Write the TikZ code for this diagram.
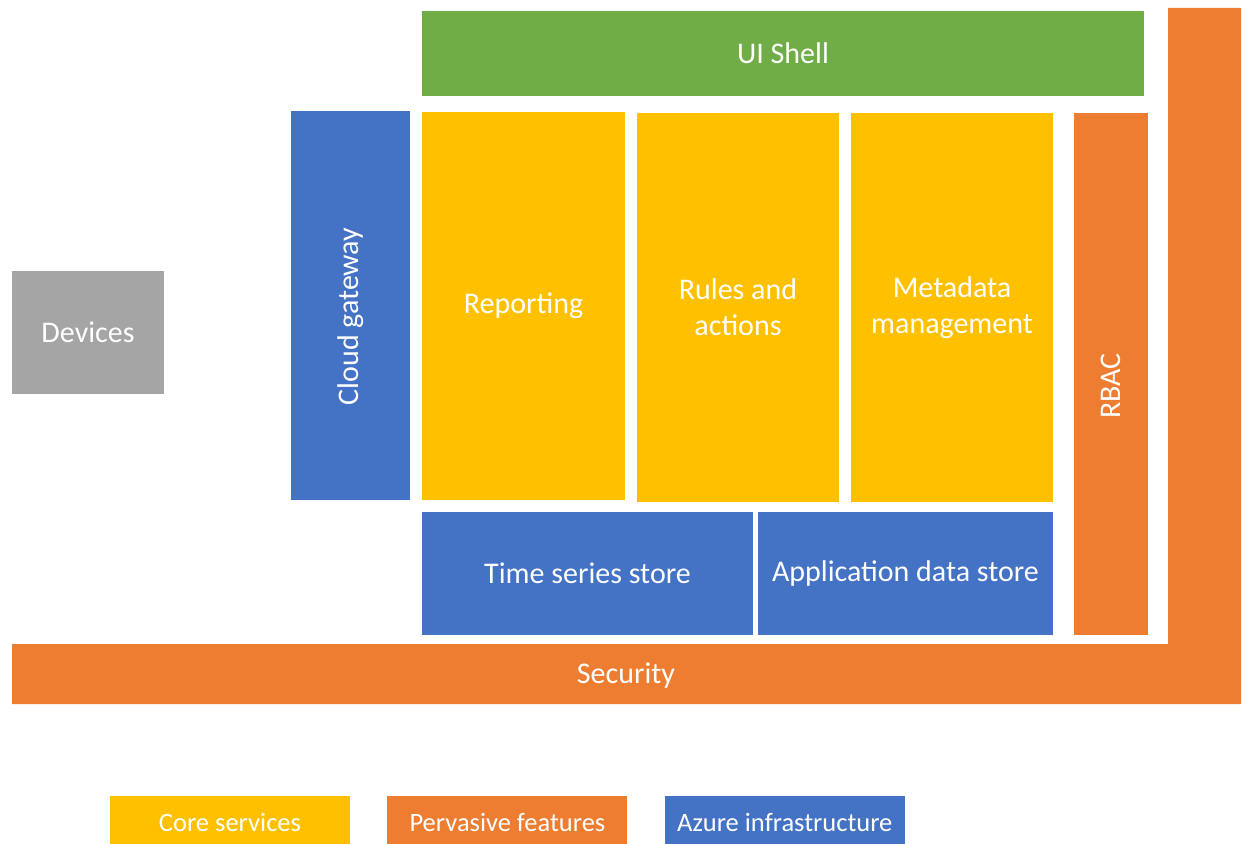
\documentclass[tikz,border=0pt]{standalone}
\usepackage{fontspec}
\setmainfont{Carlito}
\usepackage{tikz}
\usetikzlibrary{positioning}
\definecolor{shellgreen}{HTML}{70AD47}
\definecolor{azureblue}{HTML}{4472C4}
\definecolor{devgray}{HTML}{A5A5A5}
\definecolor{coreyellow}{HTML}{FFC000}
\definecolor{pervorange}{HTML}{ED7D31}
\tikzstyle{block}=[rectangle,inner sep=0pt,text=white,align=center,
                font=\fontsize{30}{36}\selectfont]
\tikzstyle{shell}=[block,fill=shellgreen]
\tikzstyle{azure}=[block,fill=azureblue]
\tikzstyle{device}=[block,fill=devgray]
\tikzstyle{core}=[block,fill=coreyellow]
\tikzstyle{pervasive}=[block,fill=pervorange]
\tikzstyle{legend}=[block,minimum width=240pt,minimum height=52pt,
                font=\fontsize{26.5}{32}\selectfont]

\begin{document}
\begin{tikzpicture}[x=1pt,y=-1pt]
\useasboundingbox (0,0) rectangle (1244,843);
% security frame
\fill[pervorange] (12,644) -- (1168,644) -- (1168,8) -- (1241,8)
      -- (1241,704) -- (12,704) -- cycle;
\node[block] (security) at (626,676) {Security};
% top and sides
\node[shell,minimum width=722pt,minimum height=85pt] (uishell) at (783,53.5) {UI Shell};
\node[device,minimum width=152pt,minimum height=123pt] (devices) at (88,332.5) {Devices};
\node[azure,rotate=90,minimum width=389pt,minimum height=119pt] (gateway) at (350.5,305.5) {Cloud gateway\hspace*{22pt}};
\node[pervasive,rotate=90,minimum width=522pt,minimum height=74pt] (rbac) at (1111,374) {RBAC\hspace*{24pt}};
% core services
\node[core,minimum width=203pt,minimum height=388pt] (reporting) at (523.5,306) {\raisebox{-3pt}{Reporting}};
\node[core,minimum width=202pt,minimum height=389pt] (rules) at (738,307.5) {Rules and\\actions};
\node[core,minimum width=202pt,minimum height=389pt] (metadata) at (952,307.5) {Metadata\\management};
% stores
\node[azure,minimum width=331pt,minimum height=123pt] (tsstore) at (587.5,573.5) {Time series store};
\node[azure,minimum width=295pt,minimum height=123pt] (appstore) at (905.5,573.5) {Application data store};
% legend
\node[core,legend] (lcore) at (230,822) {Core services};
\node[pervasive,legend,right=37pt of lcore] (lpervasive) {Pervasive features};
\node[azure,legend,right=37pt of lpervasive] (lazure) {Azure infrastructure};
\end{tikzpicture}
\end{document}
